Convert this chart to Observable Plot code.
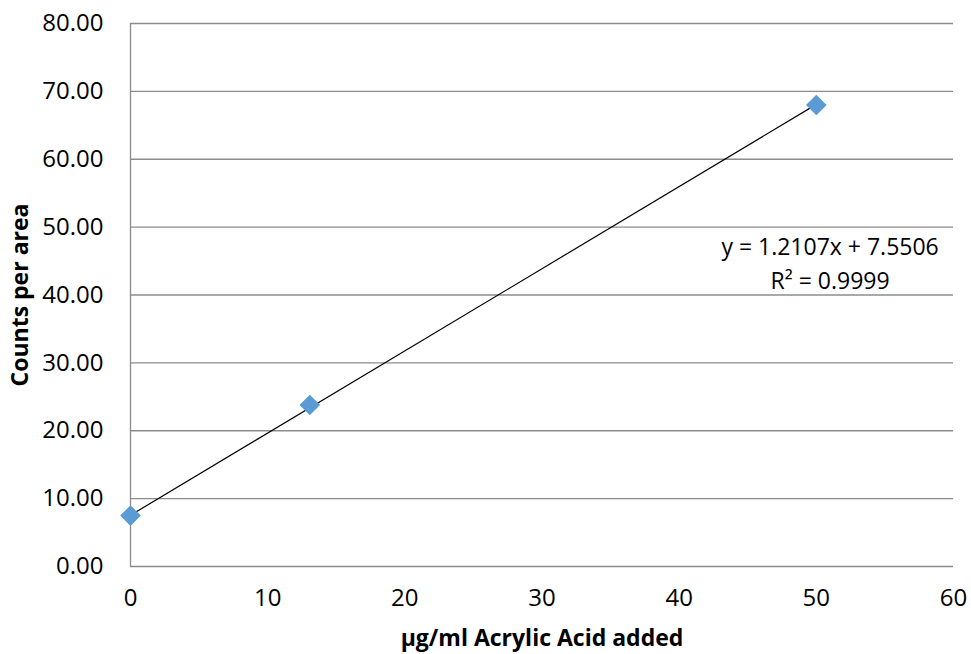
<!DOCTYPE html>
<html><head><meta charset="utf-8">
<script src="https://cdn.jsdelivr.net/npm/d3@7"></script>
<script src="https://cdn.jsdelivr.net/npm/@observablehq/plot@0.6"></script>
<style>body{margin:0;background:#fff}</style>
</head><body><div id="chart"></div>
<script>
const xValues = [0, 13.07, 50];
const yValues = [7.5, 23.8, 68.0];
const slope = 1.2107, intercept = 7.5506;
const yTicks = [0, 10, 20, 30, 40, 50, 60, 70, 80];
const xTicks = [0, 10, 20, 30, 40, 50, 60];
const equationText = "y = 1.2107x + 7.5506";
const r2Text = "R² = 0.9999";
const xTitle = "µg/ml Acrylic Acid added";
const yTitle = "Counts per area";

const points = xValues.map((x, i) => ({x, y: yValues[i]}));
const trend = [0, 50].map(x => ({x, y: slope * x + intercept}));

const chart = Plot.plot({
  width: 971, height: 654,
  marginLeft: 130, marginRight: 18, marginTop: 23, marginBottom: 88,
  style: {fontFamily: "Open Sans, sans-serif", fontSize: "24px", color: "#000", background: "#fff"},
  x: {domain: [0, 60], ticks: xTicks, tickSize: 0, tickPadding: 22, label: xTitle, labelAnchor: "center", labelOffset: 79, labelArrow: "none"},
  y: {domain: [0, 80], ticks: yTicks, tickSize: 0, tickPadding: 27, tickFormat: d => d.toFixed(2), label: yTitle, labelAnchor: "center", labelOffset: 119, labelArrow: "none"},
  marks: [
    Plot.ruleY(yTicks, {stroke: "#8c8c8c", strokeWidth: 1.3}),
    Plot.ruleX([0], {stroke: "#8c8c8c", strokeWidth: 1.3}),
    Plot.line(trend, {x: "x", y: "y", stroke: "#000", strokeWidth: 1.2}),
    Plot.dot(points, {x: "x", y: "y", symbol: "diamond2", r: 9.3, fill: "#5B9BD5", stroke: "none"}),
    Plot.text([{x: 51, y: 47, t: equationText}, {x: 51, y: 42, t: r2Text}], {x: "x", y: "y", text: "t", fontSize: 23, fill: "#000"})
  ]
});
document.getElementById("chart").append(chart);
d3.select(chart).selectAll("g[aria-label='x-axis label'], g[aria-label='y-axis label']").style("font-weight", "bold").style("font-size", "23px");
</script>
</body></html>
